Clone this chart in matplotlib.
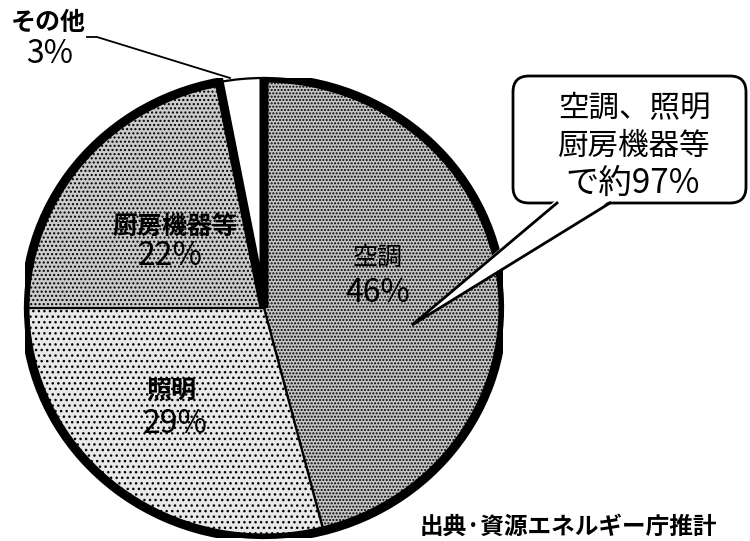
import matplotlib
matplotlib.use("Agg")
import matplotlib.pyplot as plt
from matplotlib.patches import Wedge, FancyBboxPatch, Polygon

plt.rcParams['font.family'] = ['Noto Sans CJK JP', 'DejaVu Sans']
plt.rcParams['hatch.linewidth'] = 1.0

categories = ['空調', '照明', '厨房機器等', 'その他']
values = [46, 29, 22, 3]
value_labels = ['46%', '29%', '22%', '3%']
callout_lines = ['空調、照明', '厨房機器等', 'で約97%']
source_text = '出典·資源エネルギー庁推計'

W, H = 750, 541
fig = plt.figure(figsize=(W / 100, H / 100), dpi=100)

# pie axes (pixel geometry of the ellipse)
cx, cy, rx, ry = 264, 308, 239, 230
axp = fig.add_axes([(cx - rx) / W, (H - (cy + ry)) / H, 2 * rx / W, 2 * ry / H])
faces = ['#c6c6c6', '#e8e8e8', '#cbcbcb', '#ffffff']
hatches = ['.....', '...', '....', '']
wedges, _ = axp.pie(values, startangle=90, counterclock=False, radius=1,
                    colors=faces,
                    wedgeprops=dict(edgecolor='black', linewidth=1.6))
for w, h in zip(wedges, hatches):
    w.set_hatch(h)
axp.set_aspect('auto')
axp.set_xlim(-1, 1)
axp.set_ylim(-1, 1)
axp.axis('off')

# thick outline around the 97% group
other_span = 360 * values[3] / sum(values)
axp.add_patch(Wedge((0, 0), 1, 90 + other_span, 450, fill=False,
                    edgecolor='black', linewidth=6.5, joinstyle='miter'))

# overlay axes in pixel coordinates (y downward)
ax = fig.add_axes([0, 0, 1, 1])
ax.set_xlim(0, W)
ax.set_ylim(H, 0)
ax.axis('off')
ax.patch.set_alpha(0)

fs = 18
fn = 23
ax.text(377, 258, categories[0], ha='center', va='center', fontsize=fs)
ax.text(378, 293, value_labels[0], ha='center', va='center', fontsize=fn)
ax.text(171, 390, categories[1], ha='center', va='center', fontsize=fs, fontweight='bold')
ax.text(175, 424, value_labels[1], ha='center', va='center', fontsize=fn)
ax.text(175, 227, categories[2], ha='center', va='center', fontsize=fs, fontweight='bold')
ax.text(170, 256, value_labels[2], ha='center', va='center', fontsize=fn)
ax.text(48, 23, categories[3], ha='center', va='center', fontsize=fs, fontweight='bold')
ax.text(50, 54, value_labels[3], ha='center', va='center', fontsize=fn)
ax.plot([87, 97, 230], [37, 37, 78], color='black', lw=1.3)

# callout box
box = FancyBboxPatch((513, 76), 233, 127, boxstyle='round,pad=0,rounding_size=16',
                     facecolor='white', edgecolor='black', linewidth=2)
ax.add_patch(box)
tip = (412, 325)
b1, b2 = (557, 203), (610, 203)
ax.add_patch(Polygon([tip, (b1[0] - 1, b1[1] - 3), (b2[0] + 1, b2[1] - 3)],
                     closed=True, facecolor='white', edgecolor='none'))
ax.plot([b1[0], tip[0], b2[0]], [b1[1], tip[1], b2[1]], color='black', lw=2,
        solid_joinstyle='miter')
ax.text(634, 109, callout_lines[0], ha='center', va='center', fontsize=22)
ax.text(634, 146, callout_lines[1], ha='center', va='center', fontsize=22)
ax.text(633, 183, callout_lines[2], ha='center', va='center', fontsize=24)

ax.text(568, 527, source_text, ha='center', va='center', fontsize=17, fontweight='bold')

fig.savefig('out.png', dpi=100)
